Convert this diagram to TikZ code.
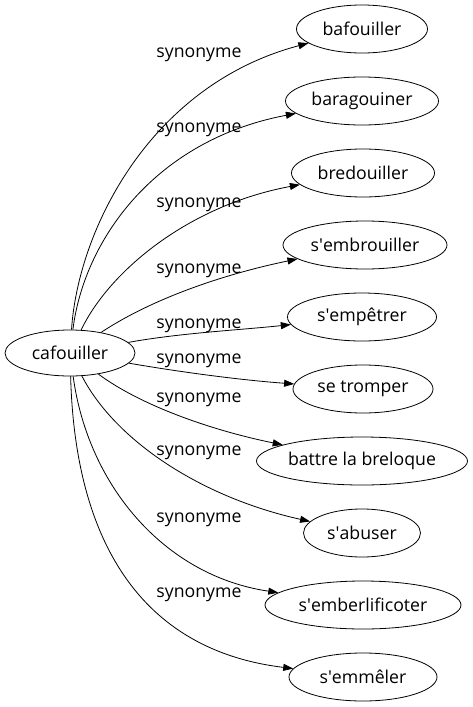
\documentclass[tikz,border=0pt]{standalone}
\usepackage{fontspec}
\setmainfont{Open Sans}
\usetikzlibrary{shapes.geometric,arrows.meta}
\newcommand{\ap}{\textquotesingle}

\begin{document}
\begin{tikzpicture}[x=1pt,y=-1pt,
  mot/.style={ellipse,draw,line width=0.8pt,inner sep=0pt,minimum height=48pt},
  lien/.style={line width=0.8pt,-{Triangle[length=10pt,width=7pt]}},
  etiq/.style={inner sep=0pt,anchor=base},
  every node/.append style={font=\fontsize{17.7}{20}\selectfont}]

\useasboundingbox (0,0) rectangle (473,707);

% =========================
% NOEUDS
% =========================

\node[mot,minimum width=130pt,minimum height=46pt] (caf) at (70,353) {cafouiller};

\node[mot,minimum width=131pt] (baf) at (362,29) {bafouiller};
\node[mot,minimum width=153pt] (bar) at (362,101) {baragouiner};
\node[mot,minimum width=143pt] (bre) at (363,173) {bredouiller};
\node[mot,minimum width=164pt] (emb) at (365,245) {s\ap embrouiller};
\node[mot,minimum width=149pt] (emp) at (362,317) {s\ap empêtrer};
\node[mot,minimum width=140pt] (tro) at (363,389) {se tromper};
\node[mot,minimum width=211pt] (bat) at (362,461) {battre la breloque};
\node[mot,minimum width=117pt] (abu) at (362,533) {s\ap abuser};
\node[mot,minimum width=196pt] (ber) at (363,605) {s\ap emberlificoter};
\node[mot,minimum width=148pt] (emm) at (363,677) {s\ap emmêler};

% =========================
% ETIQUETTES
% =========================

\node[etiq] (l1) at (199,57) {synonyme};
\node[etiq] (l2) at (199,132) {synonyme};
\node[etiq] (l3) at (199,207) {synonyme};
\node[etiq] (l4) at (199,273) {synonyme};
\node[etiq] (l5) at (199,328) {synonyme};
\node[etiq] (l6) at (199,363) {synonyme};
\node[etiq] (l7) at (199,402) {synonyme};
\node[etiq] (l8) at (199,455) {synonyme};
\node[etiq] (l9) at (199,522) {synonyme};
\node[etiq] (l10) at (199,597) {synonyme};

% =========================
% ARCS
% =========================

\draw[lien] (caf) .. controls (78,230) and (150,85) .. (baf);
\draw[lien] (caf) .. controls (84,240) and (155,140) .. (bar);
\draw[lien] (caf) .. controls (110,270) and (190,205) .. (bre);
\draw[lien] (caf) .. controls (150,300) and (220,275) .. (emb);
\draw[lien] (caf) .. controls (180,333) and (240,330) .. (emp);
\draw[lien] (caf) .. controls (180,372) and (240,380) .. (tro);
\draw[lien] (caf) .. controls (140,405) and (210,430) .. (bat);
\draw[lien] (caf) .. controls (115,440) and (200,497) .. (abu);
\draw[lien] (caf) .. controls (88,486) and (165,576) .. (ber);
\draw[lien] (caf) .. controls (75,540) and (140,650) .. (emm);

\end{tikzpicture}
\end{document}
